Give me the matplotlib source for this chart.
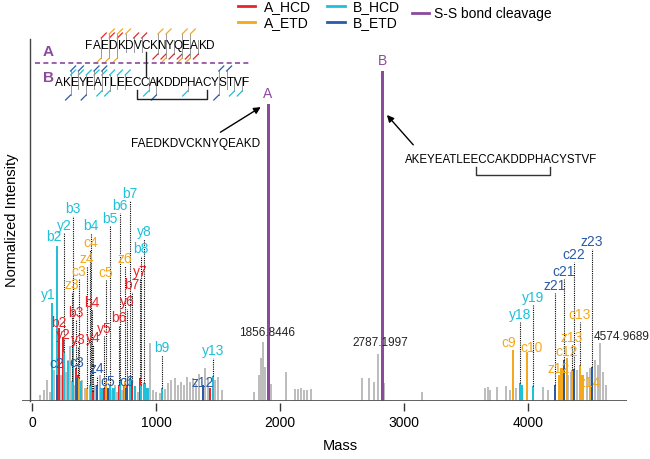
import matplotlib.pyplot as plt
from matplotlib.lines import Line2D

plt.rcParams['font.family'] = ['Liberation Sans', 'DejaVu Sans']

W, H = 650, 459

# colours
c_ahcd = '#e8262a'
c_aetd = '#f5a81c'
c_bhcd = '#1fc0d8'
c_betd = '#2a5ba6'
c_ss = '#8c4a9e'
c_gray = '#bdbdbd'

# unassigned peaks (mass, normalized intensity)
gray_mass = [65, 97, 121, 145, 177, 234, 274, 290, 306, 347, 403, 427, 508, 548,
             581, 645, 669, 686, 726, 831, 855, 952, 976, 1000, 1032, 1073, 1097, 1121,
             1153, 1177, 1202, 1226, 1250, 1274, 1298, 1323, 1347, 1395, 1419, 1476, 1500, 1532,
             1790, 1831, 1847, 1863, 1879, 1928, 2049, 2121, 2145, 2169, 2194, 2218, 2250,
             2661, 2718, 2758, 2790, 2839, 3145,
             3653, 3678, 3694, 3750, 3823, 3855, 3903, 3952, 4121, 4161,
             4258, 4282, 4323, 4347, 4395, 4444, 4476, 4500, 4540, 4565, 4581, 4605, 4629]
gray_int = [1.8, 3.3, 6.4, 2.7, 9.4, 7.9, 8.8, 12.4, 16.7, 4.8, 6.4, 3.9, 4.8, 7.9,
            3.9, 3.3, 4.8, 2.7, 3.3, 3.9, 2.7, 17.6, 3.3, 2.7, 2.4, 3.6, 5.5, 6.4,
            7.0, 4.8, 5.8, 4.8, 7.3, 5.8, 7.0, 5.2, 8.2, 10.0, 7.0, 6.4, 7.3, 3.3,
            2.7, 7.9, 13.0, 17.9, 10.3, 5.2, 8.8, 3.6, 3.6, 3.9, 3.3, 3.3, 3.6,
            7.0, 7.0, 5.8, 14.2, 5.5, 2.7,
            3.9, 4.2, 3.3, 4.2, 4.5, 3.3, 3.9, 4.8, 4.2, 3.3,
            6.4, 7.0, 7.9, 8.8, 9.4, 7.0, 8.8, 10.0, 12.4, 10.9, 17.6, 8.8, 4.8]

# A_HCD (b / y ions of peptide A)
ahcd_ion = ['b2', 'y2', 'b3', 'y3', 'b4', 'y4', 'y5', 'b6', 'y6', 'b7', 'y7']
ahcd_mass = [218, 250, 355, 371, 484, 492, 580, 702, 766, 806, 871]
ahcd_int = [22, 19.4, 10, 8, 3, 3, 4, 5, 5, 6, 7]
ahcd_lab = [21.5, 18.0, 24.5, 16.4, 27.6, 17, 19.7, 23, 28, 33, 37]
ahcd_extra_mass = [620, 1435]
ahcd_extra_int = [4, 4]

# A_ETD (c / z ions of peptide A)
aetd_ion = ['z3', 'c3', 'z4', 'c4', 'c5', 'z6', 'c9', 'c10', 'z12', 'c12', 'z13', 'c13', 'z14']
aetd_mass = [323, 379, 444, 470, 597, 750, 3879, 3992, 4250, 4315, 4355, 4419, 4500]
aetd_int = [6, 7, 4, 5, 6, 6, 15.5, 14.8, 7.9, 13, 9.4, 11, 5]
aetd_lab = [33, 37, 41, 45.8, 36.7, 41, 15.5, 14, 7.6, 12.7, 17, 24, 3.3]
aetd_extra_mass = [4270, 4440]
aetd_extra_int = [10, 8]

# B_HCD (b / y ions of peptide B)
bhcd_ion = ['y1', 'b2', 'y2', 'b3', 'b4', 'b5', 'b6', 'b7', 'b8', 'y8', 'b9', 'y13', 'y18', 'y19']
bhcd_mass = [161, 202, 258, 331, 476, 629, 710, 790, 880, 905, 1048, 1460, 3935, 4040]
bhcd_int = [29.7, 47, 15, 17, 8, 5, 6.5, 7, 5, 5.5, 4, 7.5, 5.5, 4.5]
bhcd_lab = [30, 47.5, 51, 56, 51, 53, 57, 60.5, 44, 49, 14, 13, 24, 29]
bhcd_extra_mass = [290, 395, 560, 655, 740, 830, 930, 3950]
bhcd_extra_int = [12, 6, 4, 4, 5, 4.5, 4, 5]

# B_ETD (c / z ions of peptide B)
betd_ion = ['c2', 'c3', 'z4', 'c5', 'c6', 'z12', 'z21', 'c21', 'c22', 'z23']
betd_mass = [200, 363, 524, 613, 760, 1379, 4218, 4290, 4371, 4516]
betd_int = [8, 7, 5, 4, 4, 4.8, 4.8, 12.4, 9.7, 10.3]
betd_lab = [9, 9.4, 7.6, 3.6, 3.6, 3.3, 32.7, 37, 42, 46]

# S-S bond cleavage products
ss_name = ['A', 'B']
ss_mass = [1903, 2823]
ss_int = [90, 100]

# labelled precursor-like peaks
note_text = ['1856.8446', '2787.1997', '4574.9689']
note_mass = [1895, 2807, 4758]
note_int = [20.6, 17.6, 19.4]

seq_a = 'FAEDKDVCKNYQEAKD'
seq_b = 'AKEYEATLEECCAKDDPHACYSTVF'

# small horizontal nudges (points) for crowded ion labels
nudge = {'c9': -3, 'c10': 3, 'y1': -3, 'b2': -2}


def px(x, y):
    return x / W, 1 - y / H


fig = plt.figure(figsize=(6.5, 4.59), dpi=100)
ax = fig.add_axes([22 / W, 1 - 401 / H, 605 / W, 362 / H])
ax.set_xlim(-81, 4798)
ax.set_ylim(0, 109.7)

ax.bar(gray_mass, gray_int, width=20, color=c_gray, zorder=2)
ax.bar(ahcd_extra_mass, ahcd_extra_int, width=20, color=c_ahcd, zorder=3)
ax.bar(aetd_extra_mass, aetd_extra_int, width=20, color=c_aetd, zorder=3)
ax.bar(bhcd_extra_mass, bhcd_extra_int, width=20, color=c_bhcd, zorder=3)

groups = [(ahcd_ion, ahcd_mass, ahcd_int, ahcd_lab, c_ahcd),
          (aetd_ion, aetd_mass, aetd_int, aetd_lab, c_aetd),
          (bhcd_ion, bhcd_mass, bhcd_int, bhcd_lab, c_bhcd),
          (betd_ion, betd_mass, betd_int, betd_lab, c_betd)]
for ions, mass, inten, lab, col in groups:
    ax.bar(mass, inten, width=20, color=col, zorder=3)
    for name, m, v, ly in zip(ions, mass, inten, lab):
        if ly - v > 2.5:
            ax.plot([m, m], [v, ly], color='black', lw=0.8, ls=(0, (1, 1)), zorder=4)
        dx = nudge.get(name, 0) if col in (c_aetd, c_bhcd) else 0
        ax.annotate(name, (m, ly), xytext=(dx, 0), textcoords='offset points',
                    color=col, fontsize=10, ha='center', va='bottom', zorder=5)

ax.bar(ss_mass, ss_int, width=24, color=c_ss, zorder=3)
for name, m, v in zip(ss_name, ss_mass, ss_int):
    ax.text(m, v + 0.8, name, color=c_ss, fontsize=10, ha='center', va='bottom')

for t, m, v in zip(note_text, note_mass, note_int):
    ax.text(m, v, t, fontsize=8.5, ha='center', va='center', color='#222222')

# peptide sequences with arrows
ax.text(1315, 78, seq_a, fontsize=8.5, ha='center', va='center')
ax.annotate('', xy=(1863, 89.5), xytext=(1500, 81),
            arrowprops=dict(arrowstyle='-|>', color='black', lw=1, mutation_scale=10))
ax.text(3782, 73, seq_b, fontsize=8.3, ha='center', va='center')
ax.plot([3581, 3581, 4178, 4178], [70.9, 68.5, 68.5, 70.9], color='#333333', lw=1)
ax.annotate('', xy=(2847, 87.3), xytext=(3089, 77),
            arrowprops=dict(arrowstyle='-|>', color='black', lw=1, mutation_scale=10))

# axes styling
ax.axhline(0, color='#555555', lw=1.3, zorder=6)
ax.plot([-16, -16], [0, 109.7], color='#444444', lw=1.0, clip_on=False)
for s in ['top', 'right', 'left']:
    ax.spines[s].set_visible(False)
ax.spines['bottom'].set_position(('outward', 1.5))
ax.spines['bottom'].set_visible(False)
ax.set_yticks([])
ax.set_xticks([0, 1000, 2000, 3000, 4000])
ax.tick_params(axis='x', length=6, width=1, color='#333333', pad=3, labelsize=10)
fig.text(*px(340, 446), 'Mass', fontsize=10.5, ha='center', va='center')
fig.text(*px(12, 220), 'Normalized Intensity', fontsize=10.5, ha='center', va='center',
         rotation=90)

# legends
h1 = [Line2D([], [], color=c, lw=2) for c in (c_ahcd, c_aetd, c_bhcd, c_betd)]
fig.legend(h1, ['A_HCD', 'A_ETD', 'B_HCD', 'B_ETD'], ncol=2, loc='upper left',
           bbox_to_anchor=px(238, 0), frameon=False, fontsize=10, borderpad=0,
           borderaxespad=0, handlelength=1.25, handletextpad=0.6, columnspacing=1.2,
           labelspacing=0.15)
fig.legend([Line2D([], [], color=c_ss, lw=2)], ['S-S bond cleavage'], loc='upper left',
           bbox_to_anchor=px(412, 7), frameon=False, fontsize=10, borderpad=0,
           borderaxespad=0, handlelength=1.2, handletextpad=0.4)


# fragment map at top left
def ion_gaps(names, n_res):
    top, bottom = [], []
    for nm in names:
        k = int(nm[1:])
        if nm[0] in 'bc':
            top.append(k)
        else:
            bottom.append(n_res - k)
    return top, bottom


def draw_map(seq, x0, pitch, yt, maps):
    for i, ch in enumerate(seq):
        fig.text(*px(x0 + (i + 0.5) * pitch, yt), ch, fontsize=8.5,
                 ha='center', va='center')
    n = len(seq)
    for level, (names, col) in enumerate(maps):
        top, bottom = ion_gaps(names, n)
        for g in top:
            x = x0 + g * pitch
            y1 = yt - 8 - 4 * level
            fig.add_artist(Line2D([px(x, y1)[0], px(x, yt + 6)[0]],
                                  [px(x, y1)[1], px(x, yt + 6)[1]], color='#999999', lw=0.7))
            fig.add_artist(Line2D([px(x, y1)[0], px(x + 5, y1 - 5)[0]],
                                  [px(x, y1)[1], px(x + 5, y1 - 5)[1]], color=col, lw=0.9))
        for g in bottom:
            x = x0 + g * pitch
            y1 = yt + 8 + 4 * level
            fig.add_artist(Line2D([px(x, yt - 6)[0], px(x, y1)[0]],
                                  [px(x, yt - 6)[1], px(x, y1)[1]], color='#999999', lw=0.7))
            fig.add_artist(Line2D([px(x, y1)[0], px(x - 5, y1 + 5)[0]],
                                  [px(x, y1)[1], px(x - 5, y1 + 5)[1]], color=col, lw=0.9))


draw_map(seq_a, 85, 8.1, 46, [(ahcd_ion, c_ahcd), (aetd_ion, c_aetd)])
draw_map(seq_b, 55, 7.8, 83, [(bhcd_ion, c_bhcd), (betd_ion, c_betd)])

fig.add_artist(Line2D([px(35, 63)[0], px(250, 63)[0]], [px(35, 63)[1], px(250, 63)[1]],
                      color=c_ss, lw=1.2, ls=(0, (3, 2))))
fig.text(*px(48, 52), 'A', color=c_ss, fontsize=11, fontweight='bold', ha='center', va='center')
fig.text(*px(48, 78), 'B', color=c_ss, fontsize=11, fontweight='bold', ha='center', va='center')
xa = 85 + 7.5 * 8.1
fig.add_artist(Line2D([px(xa, 52)[0], px(xa, 76)[0]], [px(xa, 52)[1], px(xa, 76)[1]],
                      color='#222222', lw=1))
xb1 = 55 + 10.5 * 7.8
xb2 = 55 + 19.5 * 7.8
fig.add_artist(Line2D([px(xb1, 90)[0], px(xb1, 99)[0], px(xb2, 99)[0], px(xb2, 90)[0]],
                      [px(xb1, 90)[1], px(xb1, 99)[1], px(xb2, 99)[1], px(xb2, 90)[1]],
                      color='#222222', lw=1))

fig.savefig('out.png', dpi=100)
